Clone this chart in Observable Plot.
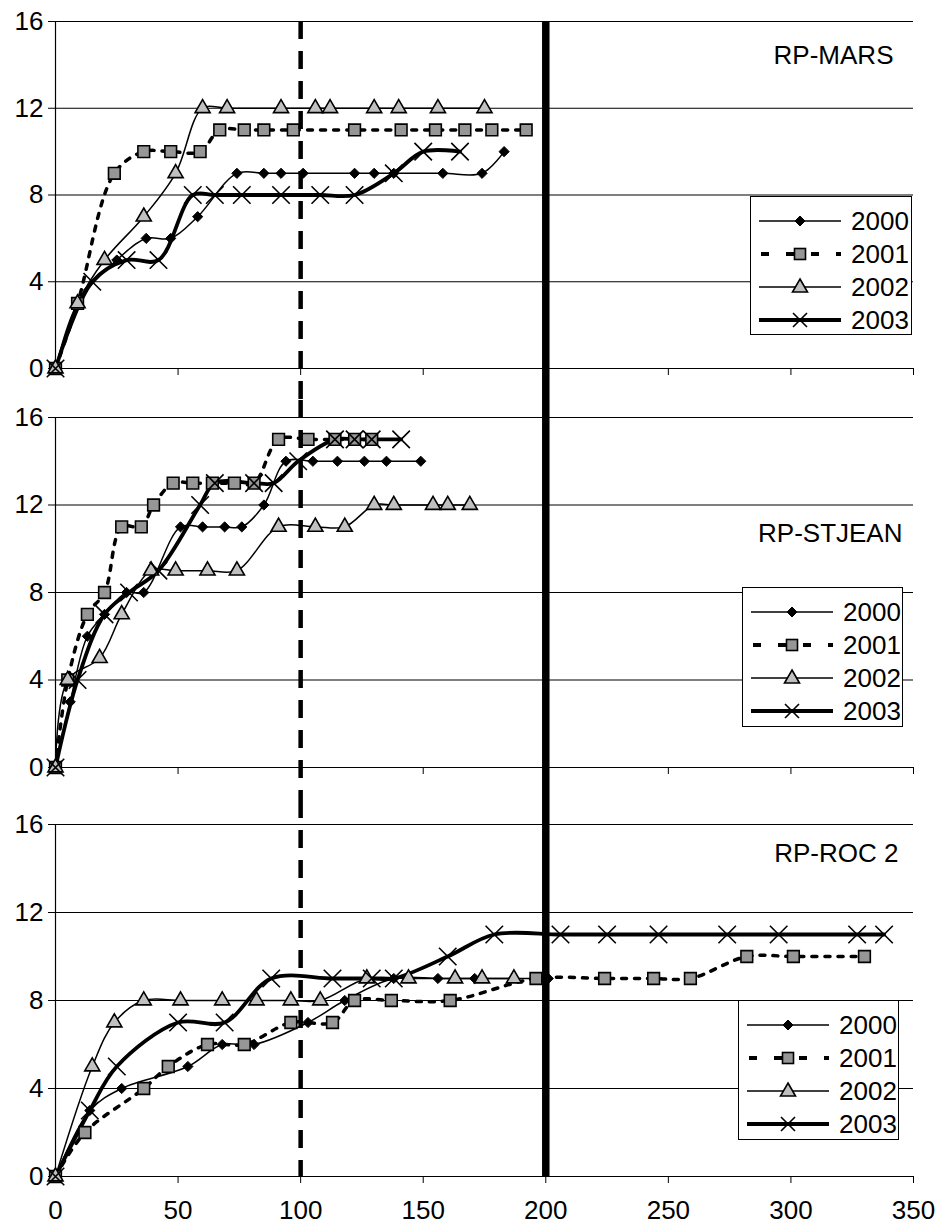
<!DOCTYPE html>
<html><head><meta charset="utf-8">
<script src="https://cdn.jsdelivr.net/npm/d3@7"></script>
<script src="https://cdn.jsdelivr.net/npm/@observablehq/plot@0.6"></script>
<style>
body{margin:0;background:#fff;font-family:"Liberation Sans",Arial,sans-serif;}
#chart{position:relative;width:940px;height:1225px;background:#fff;}
#chart svg.plot{display:block;}
.legend{position:absolute;background:#fff;border:1px solid #000;box-sizing:border-box;}
.legend .row{position:absolute;left:7px;height:30px;display:flex;align-items:center;}
.legend .row span{font-size:26px;margin-left:9px;line-height:30px;color:#000;}
</style></head><body><div id="chart"></div>
<script>
// ---- data ----
const xTicks = [0, 50, 100, 150, 200, 250, 300, 350];
const yTicks = [0, 4, 8, 12, 16];
const years = ["2000", "2001", "2002", "2003"];
const panelNames = ["RP-MARS", "RP-STJEAN", "RP-ROC 2"];
const refDashed = [100];
const refSolid = [200];

const mars2000 = [[0,0],[9,3],[25,5],[37,6],[47,6],[58,7],[74,9],[85,9],[92,9],[101,9],[122,9],[130,9],[138,9],[158,9],[174,9],[183,10]];
const mars2001 = [[0,0],[9,3],[24,9],[36,10],[47,10],[59,10],[67,11],[77,11],[85,11],[97,11],[122,11],[141,11],[155,11],[167,11],[178,11],[192,11]];
const mars2002 = [[0,0],[9,3],[20,5],[36,7],[49,9],[60,12],[70,12],[92,12],[106,12],[112,12],[130,12],[140,12],[156,12],[175,12]];
const mars2003 = [[0,0],[15,4],[29,5],[42,5],[56,8],[65,8],[76,8],[92,8],[108,8],[122,8],[138,9],[150,10],[165,10]];

const stjean2000 = [[0,0],[6,3],[13,6],[20,7],[29,8],[36,8],[51,11],[60,11],[69,11],[76,11],[85,12],[94,14],[105,14],[115,14],[126,14],[135,14],[149,14]];
const stjean2001 = [[0,0],[5,4],[13,7],[20,8],[27,11],[35,11],[40,12],[48,13],[56,13],[64,13],[73,13],[81,13],[91,15],[103,15],[114,15],[122,15],[129,15]];
const stjean2002 = [[0,0],[5,4],[18,5],[27,7],[39,9],[49,9],[62,9],[74,9],[91,11],[106,11],[118,11],[130,12],[138,12],[154,12],[160,12],[169,12]];
const stjean2003 = [[0,0],[9,4],[20,7],[30,8],[42,9],[59,12],[65,13],[81,13],[89,13],[99,14],[114,15],[122,15],[129,15],[141,15]];

const roc2000 = [[0,0],[14,3],[27,4],[54,5],[68,6],[81,6],[103,7],[118,8],[138,9],[156,9],[171,9],[201,9]];
const roc2001 = [[0,0],[12,2],[36,4],[46,5],[62,6],[77,6],[96,7],[113,7],[122,8],[137,8],[161,8],[196,9],[224,9],[244,9],[259,9],[282,10],[301,10],[330,10]];
const roc2002 = [[0,0],[15,5],[24,7],[36,8],[51,8],[68,8],[82,8],[96,8],[108,8],[127,9],[144,9],[163,9],[174,9],[187,9]];
const roc2003 = [[0,0],[14,3],[25,5],[50,7],[69,7],[88,9],[113,9],[129,9],[138,9],[160,10],[179,11],[206,11],[225,11],[246,11],[274,11],[295,11],[327,11],[338,11]];

const panelSeries = [
  [mars2000, mars2001, mars2002, mars2003],
  [stjean2000, stjean2001, stjean2002, stjean2003],
  [roc2000, roc2001, roc2002, roc2003]
];

// ---- styles ----
const FONT = '"Liberation Sans", Arial, sans-serif';
const lineStyle = [
  {stroke: "#000", strokeWidth: 1.5},
  {stroke: "#000", strokeWidth: 3.5, strokeDasharray: "5,8"},
  {stroke: "#000", strokeWidth: 1.5},
  {stroke: "#000", strokeWidth: 3.8}
];
const dotStyle = [
  {symbol: "diamond2", r: 4.6, fill: "#000", stroke: "#000", strokeWidth: 1},
  {symbol: "square", r: 6.6, fill: "#969696", stroke: "#000", strokeWidth: 1.6},
  {symbol: "triangle", r: 5.6, fill: "#c0c0c0", stroke: "#000", strokeWidth: 1.6},
  {symbol: "times", r: 8, fill: "none", stroke: "#000", strokeWidth: 1.6}
];
const layout = [
  {height: 400, marginTop: 21, marginBottom: 32, titleDx: -20, titleDy: 34, legend: [750, 196, 162, 139]},
  {height: 400, marginTop: 17, marginBottom: 33, titleDx: -11, titleDy: 116, legend: [742, 587, 161, 140]},
  {height: 425, marginTop: 24, marginBottom: 49, titleDx: -15, titleDy: 29, legend: [738, 1000, 161, 140]}
];

const chart = document.getElementById("chart");

function toRows(arr) { return arr.map(([x, y]) => ({x, y})); }

layout.forEach((L, i) => {
  const marks = [
    Plot.ruleY(yTicks.filter(d => d > 0), {stroke: "#000", strokeWidth: 1.2}),
    Plot.ruleY([0], {stroke: "#000", strokeWidth: 1.2}),
    Plot.ruleX([0], {stroke: "#000", strokeWidth: 1.2})
  ];
  panelSeries[i].forEach((s, k) => {
    marks.push(Plot.line(toRows(s), {x: "x", y: "y", curve: "catmull-rom", ...lineStyle[k]}));
  });
  panelSeries[i].forEach((s, k) => {
    marks.push(Plot.dot(toRows(s), {x: "x", y: "y", ...dotStyle[k]}));
  });
  marks.push(Plot.ruleX(refDashed, {
    stroke: "#000", strokeWidth: 4.5, strokeDasharray: "18,12",
    insetTop: i > 0 ? -L.marginTop : 0, insetBottom: i < 2 ? -L.marginBottom : 0
  }));
  marks.push(Plot.ruleX(refSolid, {
    stroke: "#000", strokeWidth: 7.5,
    insetTop: i > 0 ? -L.marginTop : 0, insetBottom: i < 2 ? -L.marginBottom : 0
  }));
  marks.push(Plot.text([panelNames[i]], {
    text: d => d, frameAnchor: "top-right", textAnchor: "end", lineAnchor: "middle",
    dx: L.titleDx, dy: L.titleDy, fontSize: 26, fill: "#000"
  }));

  const svg = Plot.plot({
    width: 940,
    height: L.height,
    marginLeft: 55,
    marginRight: 27,
    marginTop: L.marginTop,
    marginBottom: L.marginBottom,
    style: {fontFamily: FONT, fontSize: "26px", color: "#000", background: "#fff", overflow: "visible"},
    x: {domain: [0, 350], ticks: xTicks, tickSize: 7, tickPadding: 17,
        tickFormat: i === 2 ? (d => String(d)) : (() => ""), label: null},
    y: {domain: [0, 16], ticks: yTicks, tickSize: 7, tickPadding: 5, label: null},
    marks
  });
  svg.classList.add("plot");
  chart.appendChild(svg);

  // legend box (HTML overlay)
  const [lx, ly, lw, lh] = L.legend;
  const box = document.createElement("div");
  box.className = "legend";
  box.style.left = lx + "px"; box.style.top = ly + "px";
  box.style.width = lw + "px"; box.style.height = lh + "px";
  years.forEach((yr, k) => {
    const row = document.createElement("div");
    row.className = "row";
    row.style.top = (24 + 33 * k - 15) + "px";
    let marker = "";
    if (k === 0) marker = `<polygon points="42,10 47,15 42,20 37,15" fill="#000" stroke="#000" stroke-width="1"/>`;
    if (k === 1) marker = `<rect x="36.5" y="9.5" width="11" height="11" fill="#969696" stroke="#000" stroke-width="1.6"/>`;
    if (k === 2) marker = `<polygon points="42,7 49.5,20 34.5,20" fill="#c0c0c0" stroke="#000" stroke-width="1.6"/>`;
    if (k === 3) marker = `<path d="M35,8L49,22M49,8L35,22" stroke="#000" stroke-width="1.6" fill="none"/>`;
    const dash = k === 1 ? `stroke-dasharray="8,17" stroke-dashoffset="-2"` : "";
    const lw2 = k === 1 ? 4 : (k === 3 ? 4 : 1.5);
    row.innerHTML = `<svg width="84" height="30" style="display:block"><line x1="1" y1="15" x2="83" y2="15" stroke="#000" stroke-width="${lw2}" ${dash}/>${marker}</svg><span>${yr}</span>`;
    box.appendChild(row);
  });
  chart.appendChild(box);
});
</script></body></html>
